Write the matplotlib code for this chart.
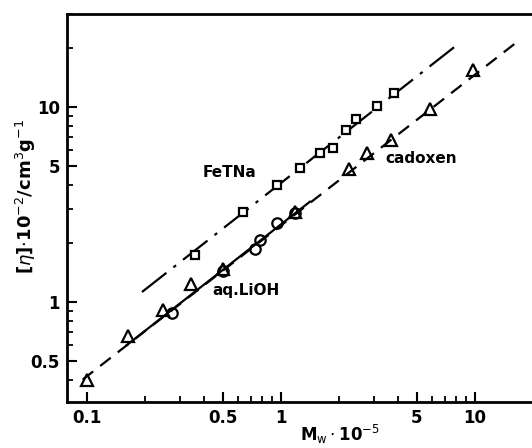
import matplotlib
matplotlib.use("Agg")
import matplotlib.pyplot as plt
from matplotlib.ticker import FixedLocator, NullFormatter, FixedFormatter

# FeTNa (squares)
fetna_x = [0.36, 0.635, 0.95, 1.25, 1.58, 1.86, 2.16, 2.44, 3.14, 3.82]
fetna_y = [1.74, 2.90, 3.98, 4.89, 5.79, 6.14, 7.62, 8.65, 10.1, 11.8]

# cadoxen (triangles)
cadoxen_x = [0.10, 0.163, 0.247, 0.342, 0.50, 1.18, 2.25, 2.79, 3.68, 5.86, 9.73]
cadoxen_y = [0.40, 0.67, 0.91, 1.24, 1.47, 2.88, 4.79, 5.79, 6.77, 9.73, 15.5]

# aq. LiOH (circles)
lioh_x = [0.273, 0.505, 0.734, 0.78, 0.95, 1.18]
lioh_y = [0.88, 1.45, 1.88, 2.08, 2.53, 2.85]

# fitted straight lines (end points)
fetna_fit_x = [0.192, 8.17]
fetna_fit_y = [1.125, 21.0]
cadoxen_fit_x = [0.095, 17.1]
cadoxen_fit_y = [0.40, 22.2]
lioh_fit_x = [0.16, 1.41]
lioh_fit_y = [0.60, 3.27]

x_labels = {0.1: "0.1", 0.5: "0.5", 1: "1", 5: "5", 10: "10"}
y_labels = {0.5: "0.5", 1: "1", 5: "5", 10: "10"}

plt.rcParams["font.family"] = ["DejaVu Sans"]

fig = plt.figure(figsize=(5.32, 4.48), dpi=100)
ax = fig.add_axes([67 / 532, 1 - 402 / 448, 1 - 67 / 532, (402 - 14) / 448])
ax.set_xscale("log")
ax.set_yscale("log")
ax.set_xlim(0.0789, 19.67)
ax.set_ylim(0.307, 30.0)

ax.plot(fetna_fit_x, fetna_fit_y, color="black", lw=1.6,
        dashes=[14, 4, 1.5, 4])
ax.plot(cadoxen_fit_x, cadoxen_fit_y, color="black", lw=1.6, dashes=[6, 4])
ax.plot(lioh_fit_x, lioh_fit_y, color="black", lw=1.6)

ax.plot(fetna_x, fetna_y, ls="none", marker="s", ms=6, mfc="white",
        mec="black", mew=1.6)
ax.plot(cadoxen_x, cadoxen_y, ls="none", marker="^", ms=8.5, mfc="none",
        mec="black", mew=1.6)
ax.plot(lioh_x, lioh_y, ls="none", marker="o", ms=7.5, mfc="none",
        mec="black", mew=1.6)

ax.text(0.54, 4.59, "FeTNa", fontsize=11, fontweight="bold", ha="center", va="center")
ax.text(5.27, 5.47, "cadoxen", fontsize=11, fontweight="bold", ha="center", va="center")
ax.text(0.66, 1.15, "aq.LiOH", fontsize=11, fontweight="bold", ha="center", va="center")

ax.set_ylabel(r"[$\eta$]$\cdot$10$^{-2}$/cm$^{3}$g$^{-1}$", fontsize=13,
              fontweight="bold")
ax.yaxis.set_label_coords(-0.062, 0.53)
ax.set_xlabel(r"M$_{\mathrm{w}}\cdot$10$^{-5}$", fontsize=12,
              fontweight="bold", va="center")
ax.xaxis.set_label_coords((340 - 67) / 465, -32 / 388)

ax.xaxis.set_major_locator(FixedLocator(list(x_labels)))
ax.xaxis.set_major_formatter(FixedFormatter(list(x_labels.values())))
ax.xaxis.set_minor_locator(FixedLocator(
    [m * d for d in (0.1, 1, 10) for m in range(2, 10)]))
ax.xaxis.set_minor_formatter(NullFormatter())
ax.yaxis.set_major_locator(FixedLocator(list(y_labels)))
ax.yaxis.set_major_formatter(FixedFormatter(list(y_labels.values())))
ax.yaxis.set_minor_locator(FixedLocator(
    [m * d for d in (0.1, 1, 10) for m in (2, 3, 4, 6, 7, 8, 9)]))
ax.yaxis.set_minor_formatter(NullFormatter())

ax.tick_params(which="major", direction="in", length=7, width=1.5,
               labelsize=12, pad=5)
ax.tick_params(which="minor", direction="in", length=4, width=1.3)
for lab in ax.get_xticklabels() + ax.get_yticklabels():
    lab.set_fontweight("bold")

ax.spines["right"].set_visible(False)
for s in ("left", "top", "bottom"):
    ax.spines[s].set_linewidth(2)

fig.savefig("out.png", dpi=100)
